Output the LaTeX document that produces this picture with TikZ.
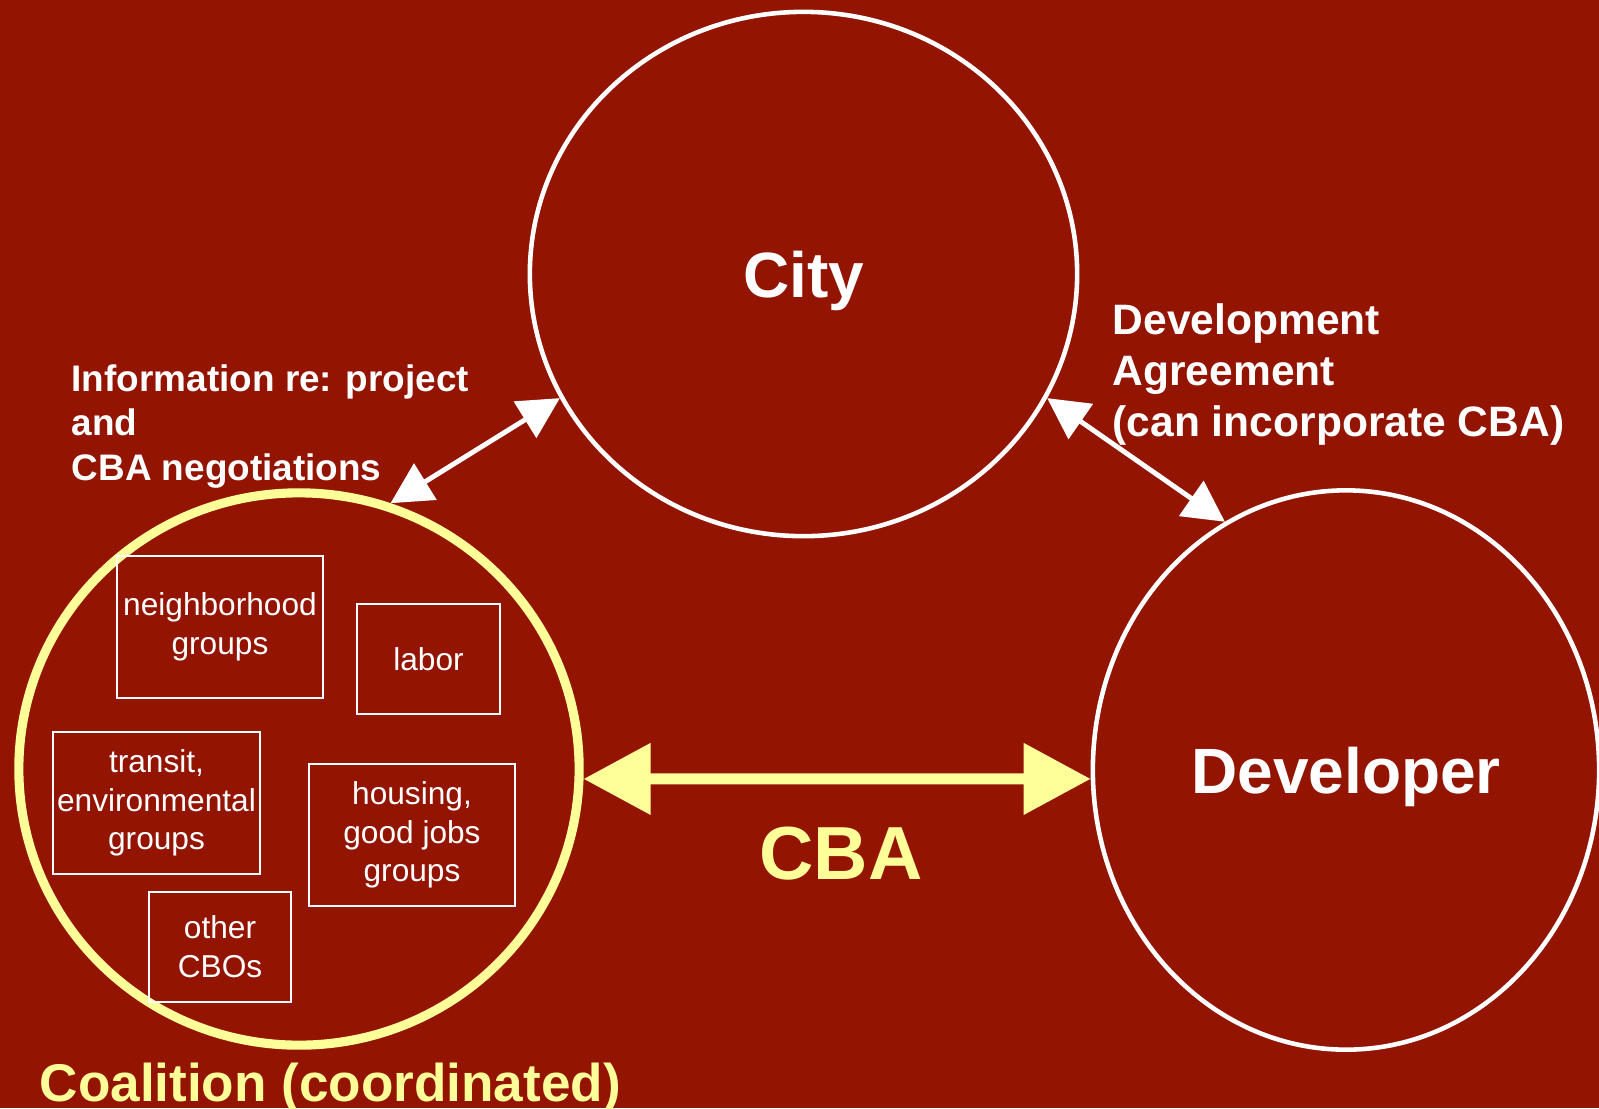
\documentclass[tikz,border=0pt]{standalone}
\usepackage{fontspec}
\setmainfont{Liberation Sans}
\usetikzlibrary{arrows.meta,shapes.geometric}
\definecolor{cbared}{RGB}{147,20,0}
\definecolor{cbayellow}{RGB}{255,255,153}

\begin{document}
\begin{tikzpicture}[x=0.01cm, y=-0.01cm,
    party/.style={ellipse, draw=white, line width=1.3pt, text=white, text depth=0pt, font=\bfseries\fontsize{18.2}{22}\selectfont},
    group/.style={rectangle, draw=white, line width=0.6pt, text=white, align=center, inner sep=1pt, font=\fontsize{9}{11}\selectfont},
    talk/.style={>={Triangle[length=4.1mm, width=4.2mm]}, <->, white, line width=1.4pt},
    deal/.style={>={Triangle[length=6.7mm, width=6.9mm]}, <->, cbayellow, line width=3.1pt}]
    \useasboundingbox (0,0) rectangle (1599,1108);
    \fill[cbared] (0,0) rectangle (1599,1108);

    % The three parties
    \node[party, minimum width=5.47cm, minimum height=5.24cm] (city) at (803.5,274) {City};
    \node[party, minimum width=5.06cm, minimum height=5.59cm] (dev) at (1346,770) {Developer};
    \node[ellipse, draw=cbayellow, line width=2.6pt, minimum width=5.6cm, minimum height=5.52cm] (coal) at (299,769) {};

    % Groups inside the coalition
    \node[group, minimum width=2.06cm, minimum height=1.42cm] (nbhd) at (220,627) {neighborhood\\groups};
    \node[group, minimum width=1.43cm, minimum height=1.10cm] (labor) at (428.5,659) {labor};
    \node[group, minimum width=2.07cm, minimum height=1.42cm] (transit) at (156.5,803) {transit,\\environmental\\groups};
    \node[group, minimum width=2.06cm, minimum height=1.42cm] (housing) at (412,835) {housing,\\good jobs\\groups};
    \node[group, minimum width=1.42cm, minimum height=1.10cm] (cbos) at (220,947) {other\\CBOs};

    % Labels
    \node[anchor=north west, inner sep=0pt, align=left, text=white, font=\bfseries\fontsize{10.5}{12.6}\selectfont] (info) at (71,364) {Information re: project\\and\\CBA negotiations};
    \node[anchor=north west, inner sep=0pt, align=left, text=white, font=\bfseries\fontsize{12.1}{14.5}\selectfont] (devagr) at (1112,303) {Development\\Agreement\\(can incorporate CBA)};
    \node[anchor=base, inner sep=0pt, text=cbayellow, font=\bfseries\fontsize{21.4}{26}\selectfont] (cba) at (841,879) {CBA};
    \node[anchor=base west, inner sep=0pt, text=cbayellow, font=\bfseries\fontsize{15.1}{18}\selectfont] (coaltitle) at (39,1101) {Coalition (coordinated)};

    % Relations
    \draw[talk] (coal.71) -- (city.207);
    \draw[talk] (city.333) -- (dev.116.9);
    \draw[deal] (coal.-2) -- (dev.182);
\end{tikzpicture}
\end{document}
